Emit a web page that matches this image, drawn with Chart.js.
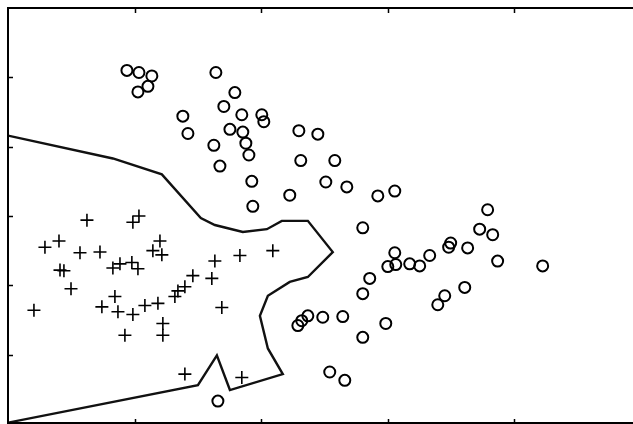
<!DOCTYPE html>
<html>
<head>
<meta charset="utf-8">
<script src="https://cdn.jsdelivr.net/npm/chart.js@4.4.0/dist/chart.umd.min.js"></script>
<style>
  html, body { margin: 0; padding: 0; background: #fff; overflow: hidden; width: 100%; height: 100%; }
  #wrap { position: absolute; left: 0; top: 0; width: 100vw; height: 100vh; }
</style>
</head>
<body>
<div id="wrap"><canvas id="c"></canvas></div>
<script>
// Class "o" (circles)
const circleX = [0.94,1.035,1.137,1.027,1.106,1.643,1.793,1.706,1.382,1.422,1.848,2.006,2.022,1.754,1.856,1.880,1.627,1.904,1.675,1.927,2.227,1.935,2.299,2.449,2.314,2.583,2.512,2.678,2.923,3.057,2.804,3.791,3.728,3.831,3.499,3.483,3.633,3.870,4.226,3.333,3.057,3.002,3.065,3.175,3.254,2.859,2.804,3.610,3.452,3.397,2.986,2.804,2.488,2.646,2.291,2.322,2.370,2.543,2.662,1.659];
const circleY = [5.10,5.07,5.02,4.79,4.87,5.07,4.78,4.58,4.44,4.19,4.46,4.46,4.36,4.25,4.21,4.05,4.02,3.88,3.72,3.50,3.30,3.14,4.23,4.18,3.80,3.80,3.49,3.42,3.29,3.36,2.83,3.09,2.81,2.73,2.61,2.55,2.54,2.35,2.28,2.43,2.47,2.27,2.30,2.31,2.28,2.10,1.88,1.97,1.85,1.72,1.45,1.25,1.54,1.55,1.42,1.49,1.56,0.75,0.63,0.33];
// Class "+" (crosses)
const plusX = [0.624,1.035,0.987,0.292,0.403,0.569,0.727,0.411,0.442,0.829,0.885,0.979,1.027,0.498,0.205,0.845,0.742,0.869,0.987,1.082,1.185,0.924,1.224,1.224,1.201,1.145,1.216,1.319,1.343,1.398,1.461,1.611,1.635,1.833,2.093,1.690,1.398,1.848];
const plusY = [2.94,3.00,2.91,2.55,2.64,2.47,2.48,2.22,2.21,2.25,2.31,2.33,2.24,1.95,1.64,1.84,1.69,1.62,1.58,1.71,1.74,1.28,1.45,1.28,2.64,2.50,2.44,1.84,1.92,1.98,2.14,2.10,2.35,2.43,2.50,1.68,0.72,0.67];
// Decision boundary
const boundaryX = [0,0.829,1.216,1.524,1.635,1.856,2.046,2.164,2.370,2.567,2.370,2.227,2.054,1.991,2.054,2.172,1.754,1.651,1.501,0];
const boundaryY = [4.16,3.83,3.60,2.97,2.87,2.77,2.81,2.93,2.93,2.48,2.12,2.05,1.85,1.56,1.09,0.72,0.49,0.99,0.56,0.02];
// Visible axis ranges (the plot continues past the right edge) / tick step
const xRange = [0, 4.94];
const yRange = [0, 6];
const tickStep = 1;

const zip = (xs, ys) => xs.map((x, i) => ({ x: x, y: ys[i] }));

const framePlugin = {
  id: 'frame',
  afterDraw(chart) {
    const { ctx, chartArea: { left, top, right, bottom }, scales: { x, y } } = chart;
    ctx.save();
    ctx.strokeStyle = '#000';
    ctx.lineWidth = 2;
    ctx.beginPath();
    ctx.moveTo(right + 2, top); ctx.lineTo(left, top); ctx.lineTo(left, bottom - 1); ctx.lineTo(right + 2, bottom - 1);
    ctx.stroke();
    ctx.lineWidth = 1.5;
    ctx.beginPath();
    for (let v = x.min + tickStep; v < x.max; v += tickStep) {
      const px = Math.round(x.getPixelForValue(v)) + 0.5;
      ctx.moveTo(px, top); ctx.lineTo(px, top + 5);
      ctx.moveTo(px, bottom); ctx.lineTo(px, bottom - 5);
    }
    for (let v = y.min + tickStep; v < y.max; v += tickStep) {
      const py = Math.round(y.getPixelForValue(v)) + 0.5;
      ctx.moveTo(left, py); ctx.lineTo(left + 5, py);
    }
    ctx.stroke();
    ctx.restore();
  }
};

new Chart(document.getElementById('c'), {
  type: 'scatter',
  data: {
    datasets: [
      {
        label: 'boundary',
        data: zip(boundaryX, boundaryY),
        showLine: true,
        borderColor: '#111',
        borderWidth: 2.4,
        pointRadius: 0,
        tension: 0,
        fill: false
      },
      {
        label: 'o',
        data: zip(circleX, circleY),
        pointStyle: 'circle',
        pointRadius: 5.5,
        borderColor: '#000',
        backgroundColor: 'rgba(0,0,0,0)',
        borderWidth: 2
      },
      {
        label: '+',
        data: zip(plusX, plusY),
        pointStyle: 'cross',
        pointRadius: 6.5,
        borderColor: '#000',
        borderWidth: 1.6
      }
    ]
  },
  options: {
    responsive: true,
    maintainAspectRatio: false,
    animation: false,
    devicePixelRatio: 1,
    layout: { autoPadding: false, padding: { left: 8, top: 8, right: 0, bottom: 0 } },
    plugins: { legend: { display: false }, tooltip: { enabled: false } },
    scales: {
      x: { type: 'linear', min: xRange[0], max: xRange[1], display: false },
      y: { type: 'linear', min: yRange[0], max: yRange[1], display: false }
    }
  },
  plugins: [framePlugin]
});
</script>
</body>
</html>
